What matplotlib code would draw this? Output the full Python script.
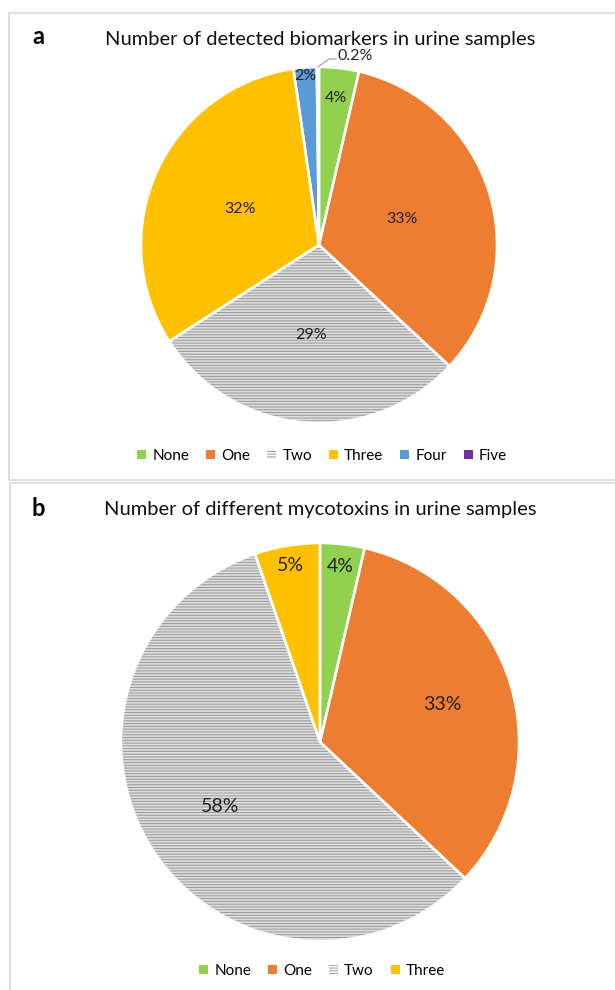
import matplotlib
matplotlib.use("Agg")
import matplotlib.pyplot as plt
from matplotlib.patches import Rectangle, Patch
import numpy as np

plt.rcParams['font.family'] = ['Lato', 'DejaVu Sans']
plt.rcParams['hatch.linewidth'] = 0.75

# ---- data ----
cats_a = ["None", "One", "Two", "Three", "Four", "Five"]
vals_a = [3.6, 33.3, 29.0, 31.8, 2.1, 0.2]
labels_a = ["4%", "33%", "29%", "32%", "2%", "0.2%"]
title_a = "Number of detected biomarkers in urine samples"

cats_b = ["None", "One", "Two", "Three"]
vals_b = [3.6, 33.4, 57.7, 5.3]
labels_b = ["4%", "33%", "58%", "5%"]
title_b = "Number of different mycotoxins in urine samples"

# ---- style ----
colors = {"None": "#92d050", "One": "#ed7d31", "Two": "#dedede",
          "Three": "#ffc000", "Four": "#5b9bd5", "Five": "#7030a0"}
HATCH = "------"
HATCH_COL = "#9a9a9a"
lab_frac_a = [0.83, 0.49, 0.51, 0.49, 0.95, None]
lab_frac_b = [0.89, 0.64, 0.60, 0.90]

W, H = 615, 990
fig = plt.figure(figsize=(W / 100, H / 100), dpi=100)

def px_axes(cx, cy, r):
    return fig.add_axes([(cx - r) / W, (H - cy - r) / H, 2 * r / W, 2 * r / H])

# panel borders
fig.patches.append(Rectangle((8.5 / W, (H - 480) / H), (W + 5) / W, 467 / H,
                             transform=fig.transFigure, fill=False,
                             edgecolor="#d9d9d9", linewidth=1.2))
fig.patches.append(Rectangle((9.5 / W, -0.05), (W + 5) / W, (H - 483) / H + 0.05,
                             transform=fig.transFigure, fill=False,
                             edgecolor="#d9d9d9", linewidth=1.2))

def draw_pie(ax, cats, vals, labels, fracs, fs):
    cols = [colors[c] for c in cats]
    wedges, _ = ax.pie(vals, colors=cols, startangle=90, counterclock=False,
                       radius=1.0, wedgeprops=dict(linewidth=0))
    for w, c in zip(wedges, cats):
        if c == "Two":
            w.set_hatch(HATCH)
            w.set_edgecolor(HATCH_COL)
            w.set_linewidth(0)
    ax.pie(vals, colors=cols, startangle=90, counterclock=False, radius=1.0,
           wedgeprops=dict(fill=False, edgecolor="white", linewidth=1.8))
    for w, lab, f in zip(wedges, labels, fracs):
        ang = np.deg2rad((w.theta1 + w.theta2) / 2)
        if f is None:
            x0, y0 = np.cos(ang), np.sin(ang)
            x1, y1 = x0 + 0.062, y0 + 0.045
            x2 = x1 + 0.04
            ax.plot([x0, x1, x2], [y0, y1, y1], color="#a6a6a6", lw=0.9,
                    clip_on=False)
            ax.text(x2 + 0.01, y1 - 0.025, lab, ha="left", va="bottom",
                    fontsize=fs, color="#222222")
        else:
            ax.text(f * np.cos(ang), f * np.sin(ang), lab, ha="center",
                    va="center", fontsize=fs, color="#222222")
    ax.set_xlim(-1, 1)
    ax.set_ylim(-1, 1)
    ax.set_aspect("equal")
    ax.axis("off")

def legend_handles(cats):
    hs = []
    for c in cats:
        if c == "Two":
            hs.append(Patch(facecolor="white", edgecolor=HATCH_COL,
                            hatch="------", linewidth=0, label=c))
        else:
            hs.append(Patch(facecolor=colors[c], edgecolor="none", label=c))
    return hs

# panel a
ax_a = px_axes(319, 245, 178)
draw_pie(ax_a, cats_a, vals_a, labels_a, lab_frac_a, 11.5)
fig.text(320 / W, 1 - 39 / H, title_a, ha="center", va="center", fontsize=14.5,
         color="#111111")
fig.text(38 / W, 1 - 37 / H, "a", ha="center", va="center", fontsize=17,
         fontweight="bold")
fig.legend(handles=legend_handles(cats_a), loc="center",
           bbox_to_anchor=(322 / W, 1 - 456 / H), ncol=6, frameon=False,
           fontsize=11, handlelength=0.6, handleheight=0.6,
           handletextpad=0.4, columnspacing=1.1)

# panel b
ax_b = px_axes(320, 742, 199)
draw_pie(ax_b, cats_b, vals_b, labels_b, lab_frac_b, 14)
fig.text(320 / W, 1 - 509 / H, title_b, ha="center", va="center", fontsize=14.5,
         color="#111111")
fig.text(38 / W, 1 - 508 / H, "b", ha="center", va="center", fontsize=17,
         fontweight="bold")
fig.legend(handles=legend_handles(cats_b), loc="center",
           bbox_to_anchor=(322 / W, 1 - 971 / H), ncol=4, frameon=False,
           fontsize=11, handlelength=0.6, handleheight=0.6,
           handletextpad=0.4, columnspacing=1.1)

fig.savefig("out.png", dpi=100, facecolor="white")
